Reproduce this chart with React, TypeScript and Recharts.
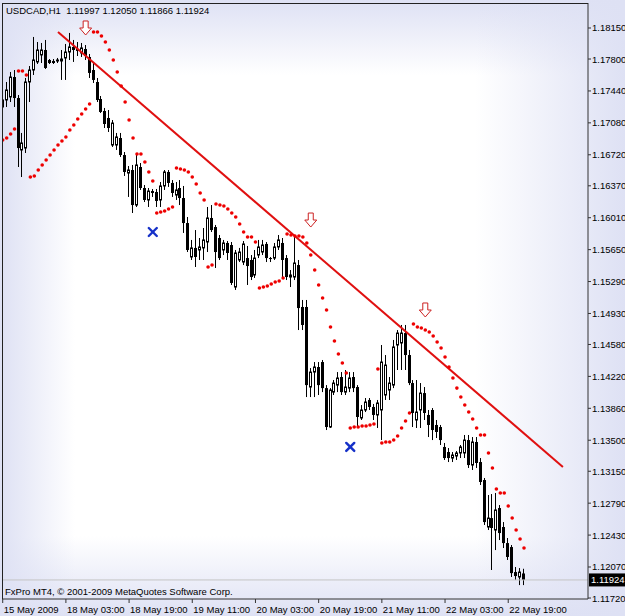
import React from 'react';
import { Bar, ComposedChart, ReferenceLine, Scatter, XAxis, YAxis } from 'recharts';

// USDCAD H1, one entry per bar (15 May 2009 .. 22 May 2009 23:00)
const opens = [
  1.17259, 1.17338, 1.17372, 1.17597, 1.1736, 1.16774, 1.16796, 1.17541, 1.17676, 1.17767,
  1.17846, 1.17902, 1.17789, 1.17778, 1.17778, 1.17778, 1.17812, 1.17879, 1.17936, 1.17913,
  1.17868, 1.17913, 1.17823, 1.17676, 1.17541, 1.17349, 1.17214, 1.17135, 1.1683, 1.1683,
  1.16909, 1.16717, 1.16514, 1.16548, 1.16153, 1.16582, 1.16345, 1.1621, 1.16311, 1.163,
  1.1621, 1.16368, 1.16526, 1.16402, 1.16266, 1.16345, 1.16232, 1.1595, 1.15567, 1.15669,
  1.15646, 1.15669, 1.15736, 1.16007, 1.15905, 1.15781, 1.15646, 1.15725, 1.15702, 1.15228,
  1.15533, 1.1551, 1.15555, 1.15533, 1.15364, 1.15589, 1.15623, 1.15714, 1.15555, 1.15555,
  1.1568, 1.15725, 1.15555, 1.15341, 1.15341, 1.15476, 1.15003, 1.15003, 1.141, 1.14269,
  1.14326, 1.14382, 1.14088, 1.13649, 1.14043, 1.14122, 1.14213, 1.14043, 1.14088, 1.14213,
  1.141, 1.13751, 1.13841, 1.13954, 1.13875, 1.13785, 1.13841, 1.1401, 1.14066, 1.14122,
  1.14574, 1.14597, 1.14709, 1.14461, 1.14145, 1.13728, 1.13841, 1.14032, 1.13785, 1.13841,
  1.13672, 1.13649, 1.13424, 1.13367, 1.13299, 1.13322, 1.13356, 1.13356, 1.13502, 1.1322,
  1.1348, 1.13254, 1.13051, 1.12521, 1.12622, 1.12487, 1.12735, 1.12521, 1.1234, 1.12295,
  1.12013, 1.11957, 1.11997,
];
const highs = [
  1.17428, 1.17541, 1.17654, 1.17676, 1.17394, 1.16966, 1.17586, 1.17721, 1.18049, 1.17992,
  1.17981, 1.18015, 1.178, 1.178, 1.17812, 1.17902, 1.1797, 1.18094, 1.18015, 1.17992,
  1.17981, 1.17958, 1.17857, 1.17755, 1.17586, 1.17383, 1.17248, 1.17225, 1.17112, 1.16966,
  1.16966, 1.16751, 1.16593, 1.16605, 1.1674, 1.16627, 1.16379, 1.16345, 1.16334, 1.16334,
  1.16413, 1.16548, 1.16548, 1.16435, 1.16413, 1.16435, 1.16368, 1.16018, 1.15759, 1.15871,
  1.15781, 1.15894, 1.16131, 1.16153, 1.15928, 1.15815, 1.15759, 1.15747, 1.15736, 1.15646,
  1.15669, 1.15747, 1.15691, 1.15589, 1.15646, 1.15759, 1.15759, 1.15736, 1.15567, 1.15725,
  1.15815, 1.15781, 1.15589, 1.1542, 1.15792, 1.15533, 1.15082, 1.15082, 1.14314, 1.14382,
  1.14382, 1.14405, 1.14122, 1.14088, 1.14179, 1.14269, 1.14269, 1.14292, 1.14269, 1.14269,
  1.14122, 1.13897, 1.13976, 1.13976, 1.13909, 1.13954, 1.14574, 1.14461, 1.14213, 1.14631,
  1.14743, 1.148, 1.148, 1.14518, 1.14179, 1.14179, 1.14145, 1.141, 1.13841, 1.13863,
  1.13728, 1.13672, 1.13469, 1.13412, 1.13367, 1.13378, 1.13446, 1.13559, 1.13559, 1.13536,
  1.13536, 1.13299, 1.13074, 1.12882, 1.12893, 1.12905, 1.12769, 1.12577, 1.12397, 1.12318,
  1.1207, 1.12058, 1.1205,
];
const lows = [
  1.17022, 1.17259, 1.17315, 1.17259, 1.16582, 1.16469, 1.1674, 1.17315, 1.1762, 1.17744,
  1.17755, 1.17688, 1.17744, 1.17744, 1.17755, 1.17564, 1.17564, 1.17789, 1.17767, 1.17834,
  1.17823, 1.17789, 1.17586, 1.1753, 1.17315, 1.17191, 1.17022, 1.16977, 1.16808, 1.16774,
  1.16695, 1.16481, 1.16244, 1.16063, 1.16131, 1.16323, 1.16187, 1.16131, 1.16244, 1.16131,
  1.16131, 1.16323, 1.16357, 1.16244, 1.1621, 1.16153, 1.15838, 1.15623, 1.15533, 1.15454,
  1.15533, 1.15533, 1.15623, 1.15849, 1.15443, 1.15533, 1.15589, 1.15533, 1.15251, 1.15195,
  1.1551, 1.15476, 1.15251, 1.15307, 1.1533, 1.15555, 1.15589, 1.1551, 1.1551, 1.15533,
  1.15646, 1.1533, 1.15307, 1.15228, 1.15307, 1.14743, 1.14743, 1.13987, 1.13987, 1.13987,
  1.1401, 1.14043, 1.13615, 1.13638, 1.1401, 1.14043, 1.1401, 1.1401, 1.14043, 1.14043,
  1.13649, 1.13728, 1.13818, 1.13841, 1.13728, 1.13638, 1.13502, 1.13954, 1.13954, 1.14088,
  1.14292, 1.14292, 1.14292, 1.14122, 1.13649, 1.13638, 1.13638, 1.13728, 1.13536, 1.13502,
  1.13525, 1.13446, 1.13277, 1.13254, 1.13254, 1.13277, 1.13299, 1.13299, 1.13187, 1.13164,
  1.13187, 1.12995, 1.12544, 1.12487, 1.12036, 1.12261, 1.12374, 1.12284, 1.12149, 1.11957,
  1.11923, 1.11866, 1.11866,
];
const closes = [
  1.17338, 1.17451, 1.17597, 1.1736, 1.16796, 1.16853, 1.17541, 1.17676, 1.17789, 1.17902,
  1.17902, 1.17699, 1.17755, 1.17755, 1.17789, 1.178, 1.17879, 1.17936, 1.17902, 1.17891,
  1.17925, 1.17834, 1.17643, 1.17564, 1.17338, 1.17203, 1.17067, 1.17022, 1.17078, 1.16921,
  1.16717, 1.16526, 1.16548, 1.16153, 1.16605, 1.16345, 1.1621, 1.16311, 1.16289, 1.16199,
  1.16368, 1.16526, 1.16402, 1.16289, 1.16323, 1.16232, 1.1595, 1.15646, 1.15669, 1.15567,
  1.1568, 1.15759, 1.16007, 1.15871, 1.15623, 1.15555, 1.15725, 1.15612, 1.15274, 1.15612,
  1.15623, 1.15714, 1.15465, 1.15341, 1.15555, 1.1568, 1.15702, 1.15555, 1.15544, 1.1568,
  1.15759, 1.15533, 1.15341, 1.15364, 1.15499, 1.14991, 1.148, 1.14122, 1.14269, 1.14326,
  1.14122, 1.14088, 1.13649, 1.14066, 1.14145, 1.14202, 1.14043, 1.141, 1.14202, 1.14088,
  1.13762, 1.13841, 1.13931, 1.13875, 1.13785, 1.1392, 1.14382, 1.14348, 1.14145, 1.14552,
  1.14709, 1.14709, 1.14461, 1.14145, 1.13807, 1.13818, 1.14032, 1.13807, 1.13672, 1.13615,
  1.13593, 1.13502, 1.13299, 1.13299, 1.13333, 1.13356, 1.13424, 1.13502, 1.1322, 1.1348,
  1.13243, 1.13029, 1.12577, 1.12622, 1.1251, 1.12713, 1.12453, 1.1234, 1.12183, 1.12001,
  1.11968, 1.12013, 1.11924,
];
// Parabolic SAR, one dot per bar
const sarValues = [
  1.16887, 1.16909, 1.16954, 1.17011,
  1.17665, 1.17665, 1.1762,
  1.16469, 1.16481, 1.16548, 1.16605, 1.16661, 1.16717, 1.16774, 1.1683, 1.16875, 1.16921,
  1.17, 1.17056, 1.17124, 1.1718, 1.17236, 1.17293,
  1.18105, 1.18105, 1.1806, 1.17992, 1.17902, 1.17789, 1.17654, 1.17496, 1.17315, 1.17112,
  1.16909, 1.16729, 1.16729, 1.16638, 1.16526, 1.16424,
  1.16063, 1.16074, 1.16086, 1.16108, 1.16131,
  1.16571, 1.1656, 1.16548, 1.16526, 1.16469, 1.1639, 1.16289, 1.1621,
  1.15454, 1.15476,
  1.16165, 1.16153, 1.16142, 1.16108, 1.16063, 1.16018, 1.15939, 1.15849, 1.15792, 1.15792, 1.15736,
  1.15217, 1.15228, 1.1524, 1.15262, 1.15285, 1.15296, 1.1533,
  1.15826, 1.15815, 1.15804, 1.15804, 1.15792, 1.15725, 1.15589, 1.1542, 1.15251, 1.15104,
  1.14969, 1.14777, 1.14619, 1.14472, 1.14371, 1.14258,
  1.13638, 1.13649, 1.13649, 1.1366, 1.1366, 1.13672, 1.13683,
  1.14303,
  1.13469, 1.1348, 1.1348, 1.13502, 1.13548, 1.13638, 1.13717, 1.13807,
  1.14811, 1.14777, 1.14766, 1.14743, 1.14721, 1.14676, 1.14608, 1.1454, 1.14439, 1.14326,
  1.14202, 1.14088, 1.13987, 1.13897, 1.13818, 1.13739, 1.13638, 1.13559, 1.13559, 1.13356,
  1.13187, 1.1295, 1.12905, 1.12905, 1.12758, 1.12622, 1.12487, 1.12386, 1.12284,
];

const xTickBars = [0, 16, 32, 48, 64, 80, 96, 112, 128];
const xTickLabels = [
  '15 May 2009', '18 May 03:00', '18 May 19:00', '19 May 11:00', '20 May 03:00',
  '20 May 19:00', '21 May 11:00', '22 May 03:00', '22 May 19:00',
];
const priceTicks = [
  1.1815, 1.178, 1.1744, 1.1708, 1.1672, 1.1637, 1.1601, 1.1565, 1.1529, 1.1493,
  1.1458, 1.1422, 1.1386, 1.135, 1.1315, 1.1279, 1.1243, 1.1207, 1.1172,
];
const sellArrows = [
  { i: 21, price: 1.1815 },
  { i: 78, price: 1.15984 },
  { i: 107, price: 1.14969 },
];
const crossMarks = [
  { i: 38, price: 1.15849 },
  { i: 88, price: 1.13424 },
];
const trendFrom = { i: 14, price: 1.18105 };
const trendTo = { i: 141.85, price: 1.13198 };

const rows = closes.map((close, i) => ({
  i,
  open: opens[i],
  high: highs[i],
  low: lows[i],
  close,
  sar: sarValues[i],
}));
const last = rows[rows.length - 1];
const bidPrice = last.close;

const FONT = '"Liberation Sans", Arial, sans-serif';
const EDGE = 'rgba(222,225,244,1)';
const CLEAR = 'rgba(222,225,244,0)';

const Candle = (props: any) => {
  const { x, y, width, height, payload } = props;
  const top = Math.min(y, y + height);
  const bottom = Math.max(y, y + height);
  const span = payload.high - payload.low;
  const toY = (p: number) => top + ((payload.high - p) / span) * (bottom - top);
  const c = Math.floor(x + width / 2);
  const yo = toY(payload.open);
  const yc = toY(payload.close);
  const bt = Math.min(yo, yc);
  const bh = Math.max(Math.abs(yo - yc), 1);
  const bull = payload.close >= payload.open;
  return (
    <g>
      <line x1={c + 0.5} x2={c + 0.5} y1={top} y2={bottom} stroke="#000" strokeWidth={1} />
      {bull ? (
        <rect x={c - 0.5} y={bt} width={2} height={bh} fill="#fff" stroke="#000" strokeWidth={1} />
      ) : (
        <rect x={c - 1} y={bt} width={3} height={bh} fill="#000" />
      )}
    </g>
  );
};

const SarDot = ({ cx, cy }: any) => <circle cx={cx} cy={cy} r={1.8} fill="#ee0000" />;

const DownArrow = ({ cx, cy }: any) => (
  <path
    d={`M${cx - 2.5},${cy - 7} H${cx + 2.5} V${cy} H${cx + 6} L${cx},${cy + 7} L${cx - 6},${cy} H${cx - 2.5} Z`}
    fill="#fff"
    stroke="#cc2222"
    strokeWidth={1}
  />
);

const Cross = ({ cx, cy }: any) => (
  <g stroke="#1530c8" strokeWidth={2.4} strokeLinecap="round">
    <line x1={cx - 4} y1={cy - 4} x2={cx + 4} y2={cy + 4} />
    <line x1={cx + 4} y1={cy - 4} x2={cx - 4} y2={cy + 4} />
  </g>
);

const DateTick = ({ x, y, payload }: any) => (
  <text x={x + 1} y={y + 9} fontSize={9.5} fontFamily={FONT} fill="#000" textAnchor="start">
    {xTickLabels[xTickBars.indexOf(payload.value)]}
  </text>
);

const PriceTick = ({ x, y, payload }: any) => (
  <text x={x} y={y + 3.5} fontSize={9.5} fontFamily={FONT} fill="#000" textAnchor="start">
    {Number(payload.value).toFixed(5)}
  </text>
);

const BidTag = ({ viewBox }: any) => {
  if (!viewBox) return null;
  const x = viewBox.x + viewBox.width;
  const y = viewBox.y;
  return (
    <g>
      <rect x={x + 1} y={y - 6.5} width={36} height={13} fill="#000" />
      <text x={x + 3} y={y + 3.5} fontSize={9.5} fontFamily={FONT} fill="#fff">
        {bidPrice.toFixed(5)}
      </text>
    </g>
  );
};

export default function App() {
  const header = `USDCAD,H1  ${last.open.toFixed(5)} ${last.high.toFixed(5)} ${last.low.toFixed(5)} ${last.close.toFixed(5)}`;
  return (
    <div
      style={{
        position: 'absolute',
        left: 0,
        top: 0,
        width: 625,
        height: 616,
        fontFamily: FONT,
        background: [
          `linear-gradient(to right, ${EDGE} 0px, ${CLEAR} 75px)`,
          `linear-gradient(to left, ${EDGE} 0px, ${CLEAR} 150px)`,
          `linear-gradient(to bottom, ${EDGE} 0px, ${CLEAR} 75px)`,
          `linear-gradient(to top, ${EDGE} 0px, ${CLEAR} 80px)`,
          '#fff',
        ].join(', '),
      }}
    >
      <ComposedChart width={625} height={616} data={rows} margin={{ top: 3, right: 0, bottom: 0, left: 2 }}>
        <XAxis
          dataKey="i"
          type="number"
          domain={[-0.18, 148.2]}
          allowDataOverflow
          ticks={xTickBars}
          interval={0}
          height={17}
          tickSize={4}
          tickMargin={1}
          stroke="#333"
          tick={<DateTick />}
        />
        <YAxis
          type="number"
          orientation="right"
          domain={[1.11709, 1.18432]}
          allowDataOverflow
          ticks={priceTicks}
          interval={0}
          width={37}
          tickSize={3}
          tickMargin={1}
          stroke="#333"
          tick={<PriceTick />}
        />
        <ReferenceLine y={bidPrice} stroke="#c4c4c4" strokeWidth={1} label={<BidTag />} />
        <Bar
          dataKey={(d: any) => [d.low, d.high]}
          barSize={3}
          shape={<Candle />}
          isAnimationActive={false}
        />
        <Scatter dataKey="sar" shape={<SarDot />} isAnimationActive={false} />
        <ReferenceLine
          segment={[
            { x: trendFrom.i, y: trendFrom.price },
            { x: trendTo.i, y: trendTo.price },
          ]}
          stroke="#e01010"
          strokeWidth={2}
        />
        <Scatter data={sellArrows} dataKey="price" shape={<DownArrow />} isAnimationActive={false} />
        <Scatter data={crossMarks} dataKey="price" shape={<Cross />} isAnimationActive={false} />
      </ComposedChart>
      <div
        style={{
          position: 'absolute',
          left: 2,
          top: 3,
          width: 586,
          height: 596,
          borderLeft: '1px solid #222',
          borderTop: '1px solid #222',
          boxSizing: 'border-box',
          pointerEvents: 'none',
        }}
      />
      <div style={{ position: 'absolute', left: 6, top: 5, fontSize: 9.5, whiteSpace: 'pre', color: '#000' }}>
        {header}
      </div>
      <div style={{ position: 'absolute', left: 5, top: 586, fontSize: 9.5, whiteSpace: 'pre', color: '#000' }}>
        FxPro MT4, © 2001-2009 MetaQuotes Software Corp.
      </div>
    </div>
  );
}
